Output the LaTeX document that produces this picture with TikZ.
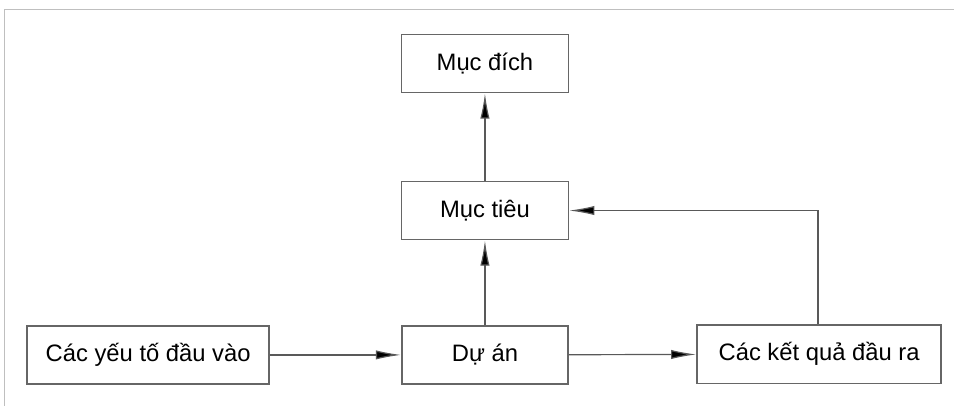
\documentclass[tikz,border=0pt]{standalone}
\usepackage{fontspec}
\setmainfont{Liberation Sans}
\usetikzlibrary{arrows.meta}
\tikzset{
	box/.style={draw=black!60, line width=1.1pt, inner sep=0pt,
		minimum height=1.54cm,
		font=\fontsize{17.9}{21}\selectfont},
	link/.style={draw=black!65, line width=0.9pt,
		-{Latex[length=19pt,width=7pt,fill=black]}},
	frame/.style={draw=black!25, line width=0.8pt}
}

\begin{document}
\begin{tikzpicture}
	\useasboundingbox (0,0) rectangle (25.24,10.74);
	\draw [ frame ] (0.13,0) -- (0.13,10.50) -- (25.24,10.50);
	\node [box, minimum width=4.42cm] (1) at (12.83,9.06)
		{Mục đích};
	\node [box, minimum width=4.42cm] (2) at (12.83,5.17)
		{Mục tiêu};
	\node [box, minimum width=6.40cm] (3) at (3.92,1.35)
		{Các yếu tố đầu vào};
	\node [box, minimum width=4.40cm] (4) at (12.83,1.35)
		{Dự án};
	\node [box, minimum width=6.46cm] (5) at (21.67,1.37)
		{Các kết quả đầu ra};
	\coordinate (c) at (21.64,5.17);
	\draw [ link ] (3) to (4);
	\draw [ link ] (4) to (5);
	\draw [ link ] (4) to (2);
	\draw [ link ] (2) to (1);
	\draw [ link ] (5.north -| c) -- (c) -- (2.east);
\end{tikzpicture}
\end{document}
